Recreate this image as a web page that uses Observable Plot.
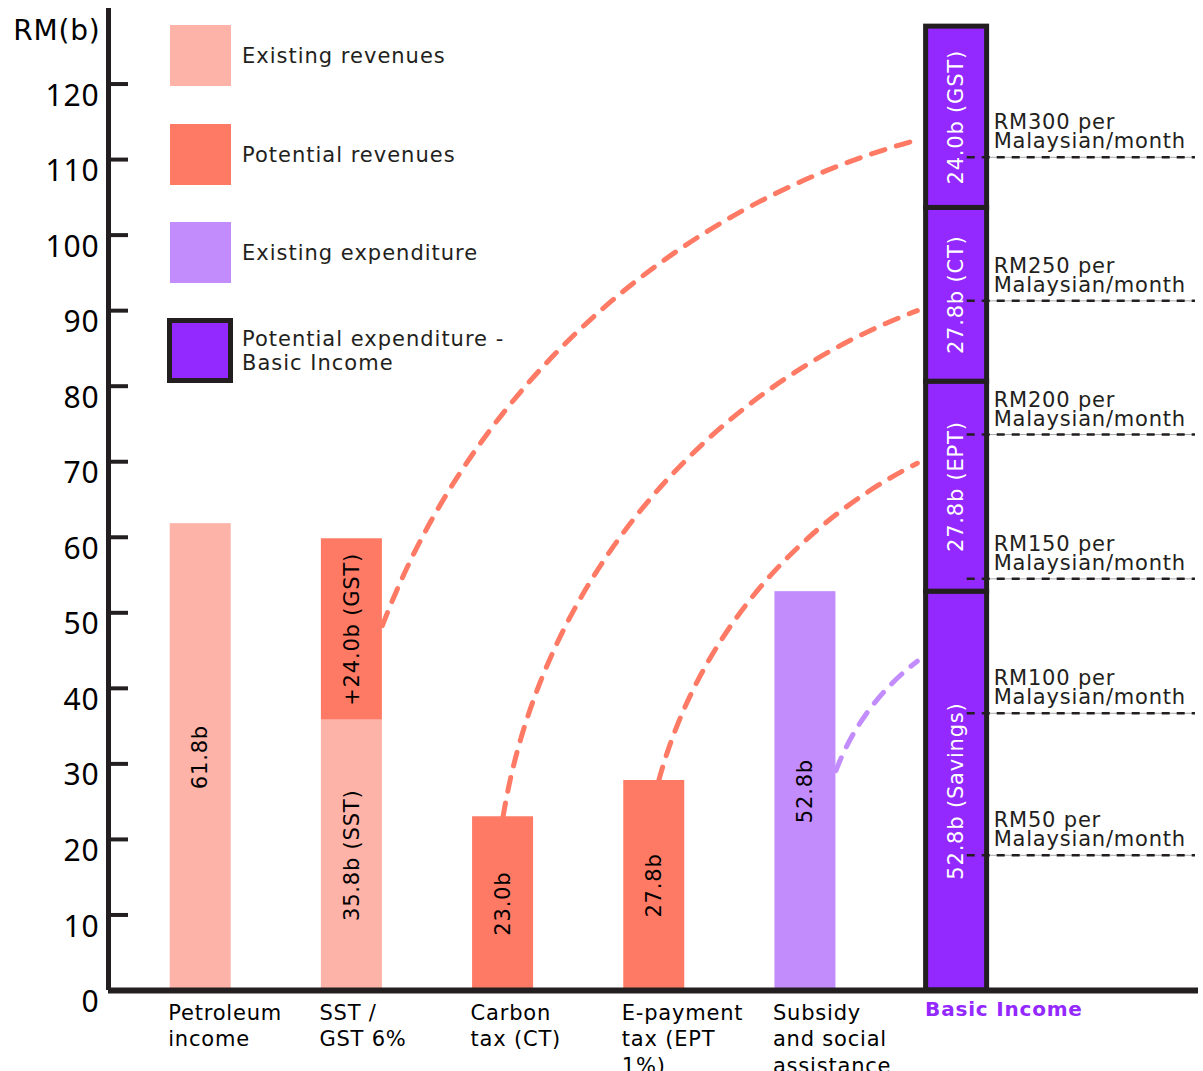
<!DOCTYPE html>
<html>
<head>
<meta charset="utf-8">
<script src="https://cdn.jsdelivr.net/npm/d3@7"></script>
<script src="https://cdn.jsdelivr.net/npm/@observablehq/plot@0.6"></script>
<style>
  body { margin: 0; background: #fff; font-family: "DejaVu Sans", sans-serif; }
  #wrap { position: relative; width: 1203px; height: 1071px; }
  #wrap svg { position: absolute; left: 0; top: 0; overflow: visible; }
  .lg-sw { position: absolute; left: 170px; width: 61px; height: 61px; }
  .lg-tx { position: absolute; left: 242px; font-size: 21px; color: #231f20; line-height: 24px; transform: translateY(-50%); white-space: nowrap; letter-spacing: 1px; }
</style>
</head>
<body>
<div id="wrap"></div>
<script>
// ---------------- data ----------------
const categories = ["Petroleum income", "SST / GST 6%", "Carbon tax (CT)", "E-payment tax (EPT 1%)", "Subsidy and social assistance", "Basic Income"];
const tickLabels = ["Petroleum\nincome", "SST /\nGST 6%", "Carbon\ntax (CT)", "E-payment\ntax (EPT\n1%)", "Subsidy\nand social\nassistance", "Basic Income"];

// bar segments, listed bottom to top inside each category
const segCategory = ["Petroleum income", "SST / GST 6%", "SST / GST 6%", "Carbon tax (CT)", "E-payment tax (EPT 1%)", "Subsidy and social assistance", "Basic Income", "Basic Income", "Basic Income", "Basic Income"];
const segType = ["Existing revenues", "Existing revenues", "Potential revenues", "Potential revenues", "Potential revenues", "Existing expenditure", "Potential expenditure", "Potential expenditure", "Potential expenditure", "Potential expenditure"];
const segValue = [61.8, 35.8, 24.0, 23.0, 27.8, 52.8, 52.8, 27.8, 23.0, 24.0];
const segLabel = ["61.8b", "35.8b (SST)", "+24.0b (GST)", "23.0b", "27.8b", "52.8b", "52.8b (Savings)", "27.8b (EPT)", "27.8b (CT)", "24.0b (GST)"];

const legendTypes = ["Existing revenues", "Potential revenues", "Existing expenditure", "Potential expenditure"];
const legendLabels = ["Existing revenues", "Potential revenues", "Existing expenditure", "Potential expenditure -<br>Basic Income"];
const legendColors = ["#fdb3a7", "#ff7a65", "#c28cfc", "#9328ff"];

// per-person reference lines on the Basic Income bar
const perPersonLabels = ["RM50 per\nMalaysian/month", "RM100 per\nMalaysian/month", "RM150 per\nMalaysian/month", "RM200 per\nMalaysian/month", "RM250 per\nMalaysian/month", "RM300 per\nMalaysian/month"];
const perPersonValues = [17.9, 36.7, 54.5, 73.6, 91.3, 110.3];

// dashed arcs linking sources to the Basic Income bar
const arcFrom = ["SST / GST 6%", "Carbon tax (CT)", "E-payment tax (EPT 1%)", "Subsidy and social assistance"];
const arcFromValue = [48.3, 23.0, 27.8, 29.1];
const arcToValue = [112.6, 90.0, 69.8, 43.6];
const arcKind = ["revenue", "revenue", "revenue", "expenditure"];

const yTicks = [0, 10, 20, 30, 40, 50, 60, 70, 80, 90, 100, 110, 120];

// ---------------- layout ----------------
const W = 1203, H = 1071, mL = 108, mR = 5, mT = 8, mB = 81;
const xDomain = [-0.61, 6.6];
const yDomain = [0, 130];
const pxX = (W - mL - mR) / (xDomain[1] - xDomain[0]);
const half = 30.5 / pxX;
const dark = "#231f20";
const color = Object.fromEntries(legendTypes.map((t, i) => [t, legendColors[i]]));
const idx = c => categories.indexOf(c);

// stack segments
const base = {};
const segs = segValue.map((v, i) => {
  const c = segCategory[i];
  const y1 = base[c] || 0;
  base[c] = y1 + v;
  return {cat: c, i: idx(c), type: segType[i], y1, y2: y1 + v, label: segLabel[i]};
});
const normal = segs.filter(d => d.type !== "Potential expenditure");
const bi = segs.filter(d => d.type === "Potential expenditure");

const arcStartOffset = {"SST / GST 6%": half, "Carbon tax (CT)": 0, "E-payment tax (EPT 1%)": 0.03, "Subsidy and social assistance": half};
const arcBend = [27, 30, 24, 16];
const arcs = arcFrom.map((c, k) => ({
  x1: idx(c) + arcStartOffset[c], y1: arcFromValue[k],
  x2: idx("Basic Income") - 0.26, y2: arcToValue[k], kind: arcKind[k], bend: arcBend[k]
}));

const refs = perPersonValues.map((v, k) => ({v, label: perPersonLabels[k]}));
const biX = idx("Basic Income");

const revArcs = arcs.filter(a => a.kind === "revenue");
const expArcs = arcs.filter(a => a.kind === "expenditure");

const plot = Plot.plot({
  width: W, height: H,
  marginLeft: mL, marginRight: mR, marginTop: mT, marginBottom: mB,
  x: {type: "linear", domain: xDomain, axis: null},
  y: {domain: yDomain, axis: null},
  style: {fontFamily: "'DejaVu Sans', sans-serif", overflow: "visible", background: "transparent", letterSpacing: "0.8px"},
  marks: [
    // arcs (beneath bars)
    ...revArcs.map(a => Plot.arrow([a], {x1: "x1", y1: "y1", x2: "x2", y2: "y2", bend: a.bend, headLength: 0, stroke: "#ff7a65", strokeWidth: 5, strokeDasharray: "14,12"})),
    ...expArcs.map(a => Plot.arrow([a], {x1: "x1", y1: "y1", x2: "x2", y2: "y2", bend: a.bend, headLength: 0, stroke: "#c28cfc", strokeWidth: 5, strokeDasharray: "14,12"})),
    // bars
    Plot.rect(normal, {x1: d => d.i - half, x2: d => d.i + half, y1: "y1", y2: "y2", fill: d => color[d.type]}),
    // reference lines
    Plot.ruleY(refs, {y: "v", x1: biX + 0.04, x2: xDomain[1] - 0.02, stroke: "#aaa", strokeWidth: 1}),
    Plot.rect(bi, {x1: d => d.i - half, x2: d => d.i + half, y1: "y1", y2: "y2", fill: color["Potential expenditure"], stroke: dark, strokeWidth: 5}),
    Plot.ruleY(refs, {y: "v", x1: biX + 0.07, x2: xDomain[1] - 0.02, stroke: dark, strokeWidth: 2.5, strokeDasharray: "8,7"}),
    Plot.text(refs, {x: biX + 0.245, y: "v", text: "label", textAnchor: "start", lineAnchor: "bottom", lineHeight: 0.9, dy: -9, fontSize: 21, fill: dark}),
    // bar labels
    Plot.text(normal, {x: d => d.i, y: d => (d.y1 + d.y2) / 2, text: "label", rotate: -90, fontSize: 21, fill: "#000"}),
    Plot.text(bi, {x: d => d.i, y: d => (d.y1 + d.y2) / 2, text: "label", rotate: -90, fontSize: 21, fill: "#fff"}),
    // axes
    Plot.ruleY(yTicks.filter(t => t > 0), {y: d => d, x1: xDomain[0], x2: xDomain[0] + 20 / pxX, stroke: dark, strokeWidth: 4}),
    Plot.ruleX([xDomain[0]], {y1: yDomain[0], y2: yDomain[1], stroke: dark, strokeWidth: 5}),
    Plot.ruleY([0], {x1: xDomain[0], x2: xDomain[1], stroke: dark, strokeWidth: 6}),
    Plot.text(yTicks, {x: xDomain[0], y: d => d, text: d => String(d), textAnchor: "end", dx: -9, dy: 12, fontSize: 30, fontFamily: "'Noto Sans', sans-serif", fill: "#000"}),
    Plot.text(["RM(b)"], {frameAnchor: "top-left", text: d => d, textAnchor: "end", dx: -8, dy: 12, fontSize: 28, fill: "#000"}),
    // category labels
    Plot.text(categories.slice(0, 5), {x: (d, i) => i - half, y: 0, text: (d, i) => tickLabels[i], textAnchor: "start", lineAnchor: "top", dy: 11, dx: -2, fontSize: 21, lineHeight: 1.25, fill: "#000"}),
    Plot.text(["Basic Income"], {x: biX - half, y: 0, text: () => tickLabels[5], textAnchor: "start", lineAnchor: "top", dy: 11, dx: -1, fontSize: 20, fontWeight: "bold", fill: "#9328ff"})
  ]
});

const wrap = document.getElementById("wrap");
wrap.appendChild(plot);

// legend overlay
const swTops = [25, 124, 222, 320];
legendTypes.forEach((t, k) => {
  const sw = document.createElement("div");
  sw.className = "lg-sw";
  sw.style.top = swTops[k] + "px";
  sw.style.background = legendColors[k];
  if (k === 3) {
    sw.style.boxSizing = "border-box";
    sw.style.border = "5px solid " + dark;
    sw.style.left = "167px";
    sw.style.top = (swTops[k] - 2) + "px";
    sw.style.width = "66px";
    sw.style.height = "65px";
  }
  wrap.appendChild(sw);
  const tx = document.createElement("div");
  tx.className = "lg-tx";
  tx.style.top = (swTops[k] + 31) + "px";
  tx.innerHTML = legendLabels[k];
  wrap.appendChild(tx);
});
</script>
</body>
</html>
